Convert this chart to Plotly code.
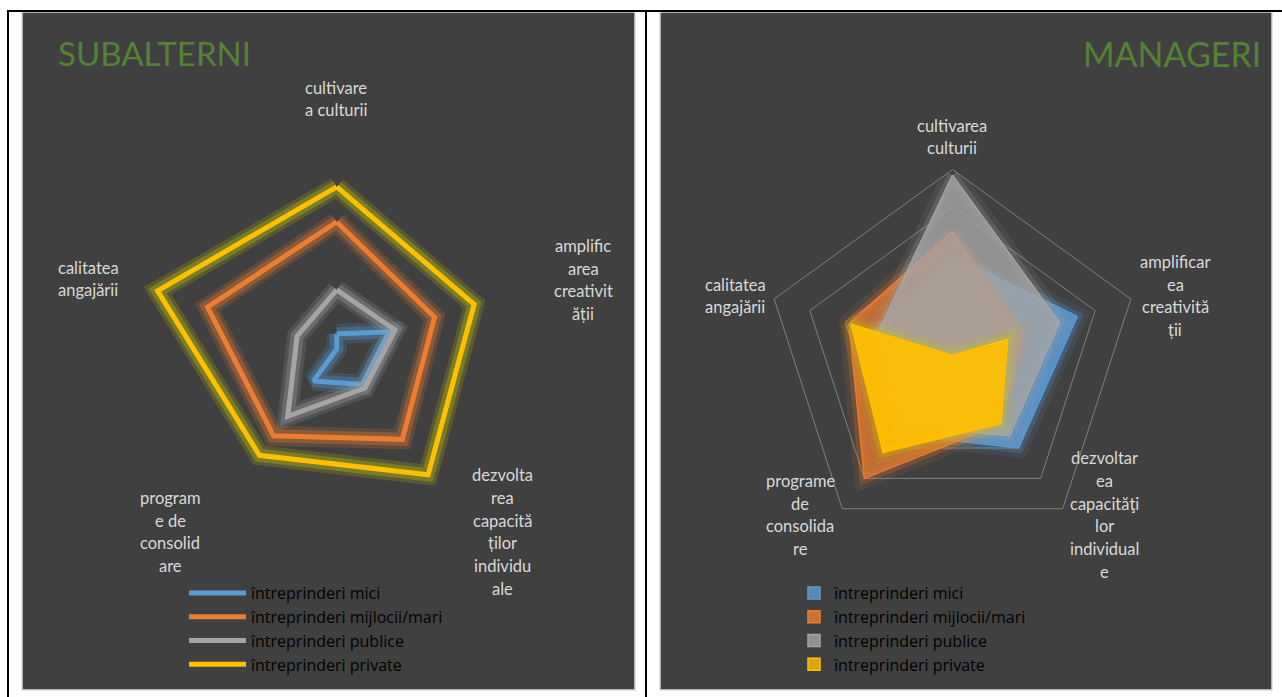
import plotly.graph_objects as go

W, H = 1282, 697

# ---------------- data ----------------
categories = [
    "cultivarea culturii",
    "amplificarea creativității",
    "dezvoltarea capacităților individuale",
    "programe de consolidare",
    "calitatea angajării",
]
series_names = [
    "întreprinderi mici",
    "întreprinderi mijlocii/mari",
    "întreprinderi publice",
    "întreprinderi private",
]

# SUBALTERNI (left, lines)
sub_mici = [7, 25, 20, 18, 0]
sub_mijlocii = [58, 47, 51, 49, 62]
sub_publice = [27, 28, 22, 38, 19]
sub_private = [74, 66, 71, 60, 86]

# MANAGERI (right, filled)
man_mici = [54, 70, 60, 51, 45]
man_mijlocii = [67, 40, 44, 80, 58]
man_publice = [97, 60, 52, 45, 42]
man_private = [1, 31, 44, 63, 57]

# wrapped axis labels as shown in each chart
sub_labels = [
    ["cultivare", "a culturii"],
    ["amplific", "area", "creativit", "ății"],
    ["dezvolta", "rea", "capacită", "ților", "individu", "ale"],
    ["program", "e de", "consolid", "are"],
    ["calitatea", "angajării"],
]
man_labels = [
    ["cultivarea", "culturii"],
    ["amplificar", "ea", "creativită", "ții"],
    ["dezvoltar", "ea", "capacităţi", "lor", "individual", "e"],
    ["programe", "de", "consolida", "re"],
    ["calitatea", "angajării"],
]

# ---------------- styling ----------------
col_rgb = [(91, 155, 213), (237, 125, 49), (165, 165, 165), (255, 192, 0)]
glow_rgb = [(91, 155, 213), (237, 125, 49), (165, 165, 165), (205, 205, 0)]


def rgba(c, a):
    return "rgba(%d,%d,%d,%.3f)" % (c[0], c[1], c[2], a)


FONT = "Lato"
LEGEND_FONT = "Open Sans"
LABEL_COLOR = "#d9d9d9"
PANEL_BG = "#404040"


def px(x):
    return x / W


def py(y):
    return 1 - y / H


def closed(v):
    return list(v) + list(v[:1])


fig = go.Figure()

# ---- left chart: lines with glow ----
sub_series = [sub_mici, sub_mijlocii, sub_publice, sub_private]
theta_c = closed(categories)
for i, vals in enumerate(sub_series):
    fig.add_trace(go.Scatterpolar(
        r=closed(vals), theta=theta_c, mode="lines",
        line=dict(color=rgba(glow_rgb[i], 0.18), width=20),
        subplot="polar", showlegend=False, hoverinfo="skip"))
    fig.add_trace(go.Scatterpolar(
        r=closed(vals), theta=theta_c, mode="lines",
        line=dict(color=rgba(glow_rgb[i], 0.30), width=13),
        subplot="polar", showlegend=False, hoverinfo="skip"))
    fig.add_trace(go.Scatterpolar(
        r=closed(vals), theta=theta_c, mode="lines",
        line=dict(color=rgba(col_rgb[i], 1), width=5),
        subplot="polar", name=series_names[i], legend="legend"))

# ---- right chart: filled areas with glow ----
man_series = [man_mici, man_mijlocii, man_publice, man_private]
fill_alpha = [0.85, 0.72, 0.8, 0.93]
for i, vals in enumerate(man_series):
    fig.add_trace(go.Scatterpolar(
        r=closed(vals), theta=theta_c, mode="lines",
        line=dict(color=rgba(glow_rgb[i], 0.10), width=20),
        subplot="polar2", showlegend=False, hoverinfo="skip"))
    fig.add_trace(go.Scatterpolar(
        r=closed(vals), theta=theta_c, mode="lines",
        line=dict(color=rgba(glow_rgb[i], 0.22), width=10),
        subplot="polar2", showlegend=False, hoverinfo="skip"))
    fig.add_trace(go.Scatterpolar(
        r=closed(vals), theta=theta_c, mode="lines", fill="toself",
        fillcolor=rgba(col_rgb[i], fill_alpha[i]),
        line=dict(color=rgba(col_rgb[i], 0.9), width=1.5),
        subplot="polar2", showlegend=False))
# legend entries (square swatches) for right chart
for i in range(4):
    fig.add_trace(go.Scatterpolar(
        r=[None], theta=[None], mode="markers",
        marker=dict(symbol="square", size=12, color=rgba(col_rgb[i], 0.8),
                    line=dict(color=rgba(col_rgb[i], 1), width=1.5)),
        subplot="polar2", name=series_names[i], legend="legend2"))

# ---------------- layout geometry ----------------
LC, LR = (336.7, 349.0), 219.0
RC, RR = (952.5, 357.0), 187.5


def dom(c, r):
    return dict(x=[px(c[0] - r), px(c[0] + r)], y=[py(c[1] + r), py(c[1] - r)])


fig.update_layout(
    width=W, height=H,
    margin=dict(l=0, r=0, t=0, b=0),
    paper_bgcolor="white", plot_bgcolor="white",
    polar=dict(
        domain=dom(LC, LR), bgcolor="rgba(0,0,0,0)",
        radialaxis=dict(visible=False, range=[0, 100]),
        angularaxis=dict(visible=False, rotation=90, direction="clockwise",
                         categoryorder="array", categoryarray=categories),
    ),
    polar2=dict(
        domain=dom(RC, RR), bgcolor="rgba(0,0,0,0)", gridshape="linear",
        radialaxis=dict(range=[0, 100], tickvals=[20, 40, 60, 80, 100],
                        showticklabels=False, ticks="", showline=False,
                        gridcolor="#808080", gridwidth=1, layer="below traces"),
        angularaxis=dict(rotation=90, direction="clockwise", showgrid=False,
                         showticklabels=False, ticks="", showline=True,
                         linecolor="#808080", linewidth=1, layer="below traces",
                         categoryorder="array", categoryarray=categories),
    ),
    legend=dict(x=px(184), y=py(576), xanchor="left", yanchor="top",
                bgcolor="rgba(0,0,0,0)",
                font=dict(family=LEGEND_FONT, size=16, color="#000000"),
                itemwidth=57, tracegroupgap=0),
    legend2=dict(x=px(794), y=py(576), xanchor="left", yanchor="top",
                 bgcolor="rgba(0,0,0,0)",
                 font=dict(family=LEGEND_FONT, size=16, color="#000000"),
                 tracegroupgap=0),
    showlegend=True,
)

# ---------------- panels & table borders ----------------
shapes = []
for (x0, x1) in [(22, 635), (660, 1272)]:
    shapes.append(dict(type="rect", xref="paper", yref="paper",
                       x0=px(x0), x1=px(x1), y0=py(690), y1=py(12),
                       fillcolor=PANEL_BG, line=dict(color="#d9d9d9", width=1.5),
                       layer="below"))
shapes.append(dict(type="line", xref="paper", yref="paper", x0=px(7), x1=px(1282),
                   y0=py(11), y1=py(11), line=dict(color="black", width=2), layer="below"))
shapes.append(dict(type="line", xref="paper", yref="paper", x0=px(8), x1=px(8),
                   y0=py(10), y1=py(697), line=dict(color="black", width=2), layer="below"))
shapes.append(dict(type="line", xref="paper", yref="paper", x0=px(646), x1=px(646),
                   y0=py(10), y1=py(697), line=dict(color="black", width=2), layer="below"))
fig.update_layout(shapes=shapes)

# ---------------- annotations ----------------
ann = []
ann.append(dict(text="SUBALTERNI", x=px(56), y=py(53), xref="paper", yref="paper",
                xanchor="left", yanchor="middle", showarrow=False,
                font=dict(family=FONT, size=33, color="#548235")))
ann.append(dict(text="MANAGERI", x=px(1263), y=py(53), xref="paper", yref="paper",
                xanchor="right", yanchor="middle", showarrow=False,
                font=dict(family=FONT, size=34, color="#548235")))

LINE_STEP = 22.7
sub_label_pos = [(336, 99), (583, 280), (502, 532), (170, 532), (88, 279)]
man_label_pos = [(952, 137), (1175, 296), (1104, 515), (800, 515), (735, 296)]


def add_label(lines, cx, cy):
    n = len(lines)
    for k, t in enumerate(lines):
        yy = cy + (k - (n - 1) / 2) * LINE_STEP
        ann.append(dict(text=t, x=px(cx), y=py(yy), xref="paper", yref="paper",
                        xanchor="center", yanchor="middle", showarrow=False,
                        font=dict(family=FONT, size=16.5, color=LABEL_COLOR)))


for lines, (cx, cy) in zip(sub_labels, sub_label_pos):
    add_label(lines, cx, cy)
for lines, (cx, cy) in zip(man_labels, man_label_pos):
    add_label(lines, cx, cy)

fig.update_layout(annotations=ann)

fig.write_html("out.html")
